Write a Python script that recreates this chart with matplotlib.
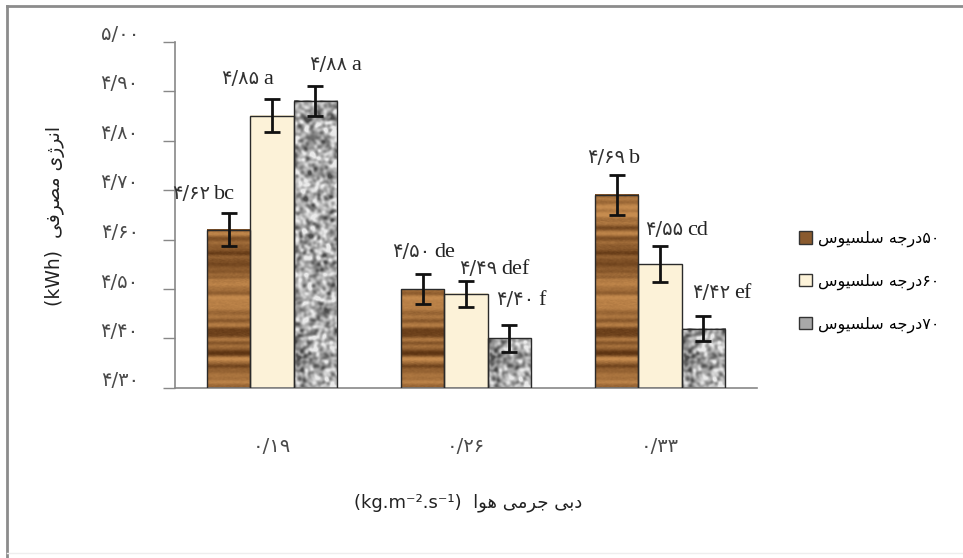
import re
import numpy as np
import matplotlib
matplotlib.use("Agg")
import matplotlib.pyplot as plt
from matplotlib.lines import Line2D
from matplotlib.patches import Patch, Rectangle
from matplotlib.transforms import ScaledTranslation

# air mass flow groups and energy use per drying temperature
flow_rates = ["0.19", "0.26", "0.33"]
temps = ["50", "60", "70"]
energy_50 = [4.62, 4.50, 4.69]
energy_60 = [4.85, 4.49, 4.55]
energy_70 = [4.88, 4.40, 4.42]
err_50 = [0.033, 0.031, 0.040]
err_60 = [0.033, 0.027, 0.036]
err_70 = [0.030, 0.028, 0.025]
letters_50 = ["bc", "de", "b"]
letters_60 = ["a", "def", "cd"]
letters_70 = ["a", "f", "ef"]
y_ticks = [4.30, 4.40, 4.50, 4.60, 4.70, 4.80, 4.90, 5.00]

# Arabic presentation forms: isolated, final, initial, medial
FORMS = {
    "ا": (0xFE8D, 0xFE8E), "د": (0xFEA9, 0xFEAA), "ر": (0xFEAD, 0xFEAE),
    "ژ": (0xFB8A, 0xFB8B), "و": (0xFEED, 0xFEEE),
    "ب": (0xFE8F, 0xFE90, 0xFE91, 0xFE92), "ج": (0xFE9D, 0xFE9E, 0xFE9F, 0xFEA0),
    "س": (0xFEB1, 0xFEB2, 0xFEB3, 0xFEB4), "ص": (0xFEB9, 0xFEBA, 0xFEBB, 0xFEBC),
    "ف": (0xFED1, 0xFED2, 0xFED3, 0xFED4), "ل": (0xFEDD, 0xFEDE, 0xFEDF, 0xFEE0),
    "م": (0xFEE1, 0xFEE2, 0xFEE3, 0xFEE4), "ن": (0xFEE5, 0xFEE6, 0xFEE7, 0xFEE8),
    "ه": (0xFEE9, 0xFEEA, 0xFEEB, 0xFEEC), "ی": (0xFBFC, 0xFBFD, 0xFBFE, 0xFBFF),
}
FA_DIGITS = str.maketrans("0123456789.", "۰۱۲۳۴۵۶۷۸۹/")


def fa(s):
    return s.translate(FA_DIGITS)


def rtl(text):
    out = []
    for i, ch in enumerate(text):
        f = FORMS.get(ch)
        if f is None:
            out.append(ch)
            continue
        prev = FORMS.get(text[i - 1]) if i > 0 else None
        nxt = FORMS.get(text[i + 1]) if i + 1 < len(text) else None
        jp = prev is not None and len(prev) == 4
        jn = len(f) == 4 and nxt is not None
        code = f[3] if jp and jn else f[1] if jp else f[2] if jn else f[0]
        out.append(chr(code))
    vis = "".join(out)[::-1]
    return re.sub(r"[۰-۹0-9/.]+", lambda m: m.group()[::-1], vis)


def blur(a, sigma, axis):
    r = int(3 * sigma) + 1
    k = np.exp(-0.5 * (np.arange(-r, r + 1) / sigma) ** 2)
    k /= k.sum()
    return np.apply_along_axis(lambda v: np.convolve(v, k, mode="same"), axis, a)


rng = np.random.default_rng(3)
H, W = 360, 44

# wood grain: horizontal dark/light bands
bands = blur(rng.normal(size=(H, 1)), 1.8, 0)
bands = bands / np.abs(bands).max()
wood_v = np.clip(0.55 + 0.6 * bands + 0.05 * rng.normal(size=(H, W)), 0, 1)
wood_v = blur(wood_v, 0.8, 1)
dark, light = np.array([0.36, 0.20, 0.07]), np.array([0.78, 0.55, 0.31])
wood = dark + (light - dark) * wood_v[..., None]

# granite speckle
g = blur(blur(rng.normal(size=(H, W)), 1.6, 0), 1.6, 1)
g = g / g.std()
g = np.clip(0.66 + 0.15 * g, 0.3, 0.92)
granite = np.repeat(g[..., None], 3, axis=2)

cream = np.ones((2, 2, 3)) * np.array([0.99, 0.95, 0.85])
textures = [wood, cream, granite]
solid = ["#8a5a2e", "#fdf3d9", "#a8a8a8"]

fig = plt.figure(figsize=(9.63, 5.58), dpi=100)
ax = fig.add_axes([175 / 963, 1 - 388 / 558, 582 / 963, 346.5 / 558])

x = np.arange(len(flow_rates))
w = 0.222
ymin, ymax = 4.30, 5.00
series = [(energy_50, err_50, letters_50), (energy_60, err_60, letters_60),
          (energy_70, err_70, letters_70)]
# label anchor (gap between number and letters), pixels from each bar top
offsets = [[(-17, 31), (9, 32), (10, 32)],
           [(-11, 32), (33, 20), (25, 29)],
           [(34, 31), (27, 33), (29, 31)]]

for s, (vals, errs, lets) in enumerate(series):
    xs = x + (s - 1) * w
    for i, (xc, v) in enumerate(zip(xs, vals)):
        tex = textures[s]
        rows = max(2, int(round((v - ymin) / (ymax - ymin) * H)))
        img = tex[H - rows:] if tex.shape[0] == H else tex
        ax.imshow(img, extent=(xc - w / 2, xc + w / 2, ymin, v), aspect="auto",
                  interpolation="bilinear", zorder=2)
        ax.add_patch(Rectangle((xc - w / 2, ymin), w, v - ymin, fill=False,
                               edgecolor="#2a2a2a", lw=1.0, zorder=3))
        dx, dy = offsets[s][i]
        ax.annotate(fa(f"{v:.2f}"), (xc, v), xytext=(dx - 2, dy),
                    textcoords="offset pixels", ha="right", va="baseline",
                    fontsize=14, family="DejaVu Sans", color="#333333",
                    zorder=5)
        ax.annotate(lets[i], (xc, v), xytext=(dx + 2, dy),
                    textcoords="offset pixels", ha="left", va="baseline",
                    fontsize=16, family="Liberation Serif", color="#222222",
                    zorder=5)
    ax.errorbar(xs, vals, yerr=errs, fmt="none", ecolor="#111111",
                elinewidth=2, capsize=5.5, capthick=2, zorder=4)

ax.set_xlim(-0.5, 2.5)
ax.set_ylim(ymin, ymax)
ax.set_yticks(y_ticks)
ax.set_yticklabels([fa(f"{t:.2f}") for t in y_ticks], fontsize=14,
                   color="#4a4a4a")
ax.set_xticks(x)
ax.set_xticklabels([fa(f) for f in flow_rates], fontsize=14, color="#4a4a4a")
ax.tick_params(axis="y", length=9, width=1, color="#888888", pad=17)
ax.tick_params(axis="x", length=0, pad=35)
for lab in ax.get_yticklabels():
    lab.set_transform(lab.get_transform()
                      + ScaledTranslation(0, 0.09, fig.dpi_scale_trans))
for side in ["top", "right"]:
    ax.spines[side].set_visible(False)
for side in ["left", "bottom"]:
    ax.spines[side].set_color("#888888")
    ax.spines[side].set_linewidth(1.2)

fig.text(55 / 963, 1 - 216 / 558, "(kWh)  " + rtl("انرژی مصرفی"),
         rotation=90, ha="center", va="center", fontsize=13.5,
         family="DejaVu Sans", color="#222222")
fig.text(468 / 963, 1 - 503 / 558, "(kg.m⁻².s⁻¹)  " + rtl("دبی جرمی هوا"),
         ha="center", va="center", fontsize=13, family="DejaVu Sans",
         color="#222222")

handles = [Patch(facecolor=c, edgecolor="#333333", lw=1) for c in solid]
labels = [rtl(fa(t) + "درجه سلسیوس") for t in temps]
fig.legend(handles, labels, loc="upper left",
           bbox_to_anchor=(799 / 963, 1 - 231 / 558), frameon=False,
           prop={"family": "DejaVu Sans", "size": 11.5},
           handlelength=0.8, handleheight=0.8, handletextpad=0.4,
           labelspacing=1.65, borderpad=0, borderaxespad=0)

# outer frame
fig.add_artist(Line2D([7 / 963, 1], [1 - 6 / 558, 1 - 6 / 558],
                      color="#8c8c8c", lw=2))
fig.add_artist(Line2D([7 / 963, 7 / 963], [0, 1 - 6 / 558],
                      color="#8c8c8c", lw=2))
fig.add_artist(Line2D([7 / 963, 1], [5 / 558, 5 / 558], color="#eeeeee", lw=1))

fig.savefig("out.png", dpi=100)
